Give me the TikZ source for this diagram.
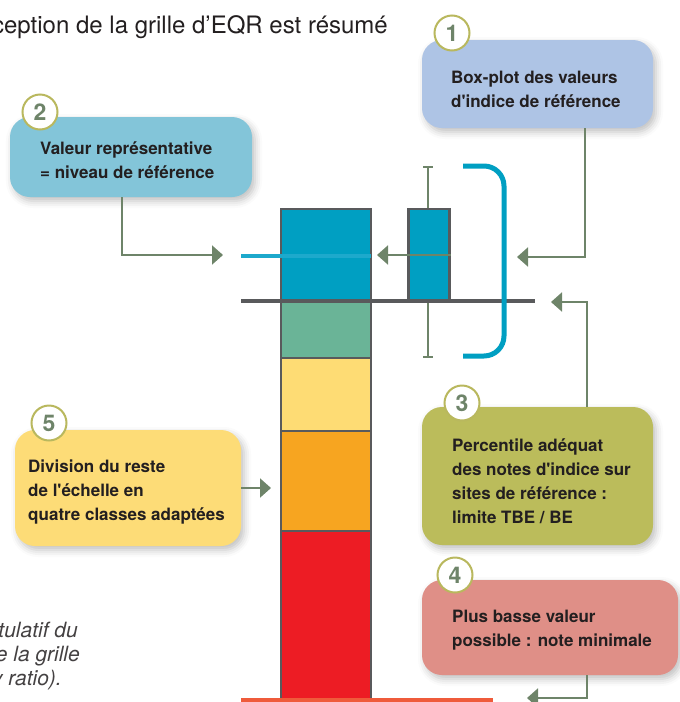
\documentclass[tikz,border=0pt]{standalone}
\usepackage{fontspec}
\setmainfont{TeX Gyre Heros}
\usepackage{tikz}
\usetikzlibrary{positioning, arrows.meta, shadows.blur, calc}
\definecolor{barblue}{HTML}{009FC2}
\definecolor{bargreen}{HTML}{6AB497}
\definecolor{baryellow}{HTML}{FEDC74}
\definecolor{barorange}{HTML}{F7A520}
\definecolor{barred}{HTML}{ED1C24}
\definecolor{outline}{HTML}{595A5C}
\definecolor{minline}{HTML}{EF5B3B}
\definecolor{refline}{HTML}{1DA9CC}
\definecolor{arrgreen}{HTML}{6E8469}
\definecolor{ringcol}{HTML}{B9B85E}
\definecolor{boxone}{HTML}{AEC4E5}
\definecolor{boxtwo}{HTML}{83C5D9}
\definecolor{boxthree}{HTML}{BBBC5B}
\definecolor{boxfour}{HTML}{DF8F87}
\definecolor{boxfive}{HTML}{FDDC77}
\definecolor{txtcol}{HTML}{231F20}
\newcommand{\ap}{\textquotesingle}

\begin{document}
\begin{tikzpicture}[x=1pt, y=-1pt,
  box/.style={rounded corners=20pt, inner sep=0pt,
    blur shadow={shadow xshift=3pt, shadow yshift=-4pt, shadow blur radius=7pt, shadow opacity=25}},
  txt/.style={anchor=west, align=left, inner sep=0pt, text=txtcol,
    font=\fontsize{17}{24}\selectfont\bfseries},
  num/.style={circle, draw=ringcol, line width=2pt, fill=white, minimum size=35pt, inner sep=0pt,
    text=arrgreen, font=\fontsize{23}{23}\selectfont\bfseries},
  arr/.style={arrgreen, line width=2pt, -{Triangle[length=11pt, width=19pt]}},
  seg/.style={draw=outline, line width=2.5pt},
  whisk/.style={arrgreen, line width=1.5pt},
  captxt/.style={anchor=base east, inner sep=0pt, text=txtcol!85, font=\fontsize{21}{24}\selectfont\itshape}]
\useasboundingbox (0,0) rectangle (680,702);

% Header text
\node[anchor=base east, inner sep=0pt, text=txtcol, font=\fontsize{24}{26}\selectfont] (head) at (388,33) {ception de la grille d’EQR est résumé};

% Bar of classes
\draw[seg, fill=barblue] (281,209) rectangle (371,301);
\draw[seg, fill=bargreen] (281,301) rectangle (371,358);
\draw[seg, fill=baryellow] (281,358) rectangle (371,431);
\draw[seg, fill=barorange] (281,431) rectangle (371,531);
\draw[seg, fill=barred] (281,531) rectangle (371,700);
\draw[minline, line width=5pt] (241,700) -- (493,700);

% Box-plot
\draw[whisk] (428,167) -- (428,209);
\draw[whisk] (423,167) -- (433,167);
\draw[whisk] (428,301) -- (428,357);
\draw[whisk] (423,357) -- (433,357);
\node[draw=outline, line width=2.5pt, fill=barblue, minimum width=41pt, minimum height=92pt, inner sep=0pt] (bp) at (429,255) {};
\draw[outline, line width=4pt] (241,301) -- (535,301);
\draw[refline, line width=4pt] (241,256) -- (371,256);
\draw[barblue, line width=5pt, rounded corners=20pt] (463,166) -- (504,166) -- (504,356) -- (463,356);

% Boxes
\node[box, fill=boxone, minimum width=231pt, minimum height=88pt] (b1) at (537.5,84) {};
\node[txt] (t1) at (451,89) {Box-plot des valeurs\\d\ap indice de référence};
\node[num] (n1) at (452,33) {1};

\node[box, fill=boxtwo, minimum width=242pt, minimum height=80pt] (b2) at (131,157) {};
\node[txt] (t2) at (40,160.5) {Valeur représentative\\= niveau de référence};
\node[num] (n2) at (40,112) {2};

\node[box, fill=boxthree, minimum width=231pt, minimum height=138pt] (b3) at (537.5,476) {};
\node[txt] (t3) at (452,481.5) {Percentile adéquat\\des notes d\ap indice sur\\sites de référence :\\limite TBE / BE};
\node[num] (n3) at (462,403) {3};

\node[box, fill=boxfour, minimum width=256pt, minimum height=95pt] (b4) at (550,627.5) {};
\node[txt] (t4) at (452,630) {Plus basse valeur\\possible : note minimale};
\node[num] (n4) at (455,575) {4};

\node[box, fill=boxfive, minimum width=226pt, minimum height=116pt] (b5) at (128,488) {};
\node[txt] (t5) at (28,492.5) {Division du reste\\de l\ap échelle en\\quatre classes adaptées};
\node[num] (n5) at (49,423) {5};

% Connectors
\coordinate (p0) at (377,255);
\coordinate (p1) at (517,257);
\coordinate (p2) at (223,255);
\coordinate (p3) at (551,302);
\coordinate (p4) at (527,698);
\coordinate (p5) at (271,488);
\draw[arr] (bp.east) -- (p0);
\draw[arr] ([xshift=47.5pt]b1.south) |- (p1);
\draw[arr] ([xshift=-9pt]b2.south) |- (p2);
\draw[arr] ([xshift=49.5pt]b3.north) |- (p3);
\draw[arr] ([xshift=37pt]b4.south) |- (p4);
\draw[arr] (b5.east) -- (p5);

% Caption fragment
\node[captxt] (q1) at (78,637) {tulatif du};
\node[captxt] (q2) at (80,661) {e la grille};
\node[captxt] (q3) at (62,685) {y ratio).};
\end{tikzpicture}
\end{document}
